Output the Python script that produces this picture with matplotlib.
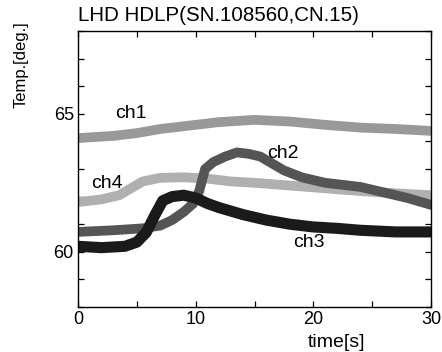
import matplotlib

matplotlib.use("Agg")
import matplotlib.pyplot as plt
from matplotlib.ticker import MultipleLocator

plt.rcParams["font.family"] = ["Liberation Sans", "DejaVu Sans"]

# values (centre of each noisy trace)
ch1_t = [0, 3, 5, 7, 9, 12, 15, 18, 21, 24, 27, 30]
ch1_v = [64.12, 64.2, 64.3, 64.45, 64.55, 64.7, 64.78, 64.72, 64.6, 64.5, 64.45, 64.38]

ch2_t = [0, 3, 5.5, 7, 8, 9, 9.8, 10.3, 10.8, 11.5, 12.5, 13.5, 14.5, 15.5, 16.5, 17.5,
         19, 21, 24, 26, 28, 30]
ch2_v = [60.72, 60.78, 60.85, 60.95, 61.15, 61.45, 61.75, 62.2, 63.0, 63.25, 63.45, 63.6,
         63.55, 63.45, 63.2, 62.95, 62.7, 62.5, 62.35, 62.15, 61.95, 61.7]

ch3_t = [0, 2, 4, 5, 5.8, 6.5, 7.2, 8, 9, 10, 11, 12, 14, 16, 18, 20, 22, 24, 27, 30]
ch3_v = [60.2, 60.15, 60.2, 60.35, 60.7, 61.3, 61.85, 62.0, 62.05, 61.95, 61.75, 61.6,
         61.35, 61.15, 61.0, 60.9, 60.85, 60.78, 60.72, 60.72]

ch4_t = [0, 2, 3.5, 4.5, 5.5, 7, 9, 11, 13, 15, 18, 21, 24, 27, 30]
ch4_v = [61.8, 61.9, 62.05, 62.3, 62.55, 62.68, 62.7, 62.65, 62.55, 62.5, 62.4, 62.3,
         62.2, 62.12, 62.05]

labels = ["ch1", "ch2", "ch3", "ch4"]
label_pos = {"ch1": (4.5, 65.0), "ch2": (17.4, 63.55), "ch3": (19.6, 60.33), "ch4": (2.5, 62.46)}

fig = plt.figure(figsize=(4.42, 3.52), dpi=100)
ax = fig.add_axes([78 / 442, 1 - 307 / 352, 353 / 442, 276 / 352])

lw = 7
ax.plot(ch1_t, ch1_v, color="#999999", lw=lw, solid_joinstyle="round")
ax.plot(ch4_t, ch4_v, color="#b0b0b0", lw=lw, solid_joinstyle="round")
ax.plot(ch2_t, ch2_v, color="#555555", lw=lw, solid_joinstyle="round")
ax.plot(ch3_t, ch3_v, color="#1a1a1a", lw=lw + 1, solid_joinstyle="round")

for name in labels:
    x, y = label_pos[name]
    ax.text(x, y, name, fontsize=14, ha="center", va="center")

ax.set_xlim(0, 30)
ax.set_ylim(58, 68)
ax.xaxis.set_major_locator(MultipleLocator(10))
ax.xaxis.set_minor_locator(MultipleLocator(5))
ax.yaxis.set_major_locator(MultipleLocator(5))
ax.yaxis.set_minor_locator(MultipleLocator(1))
ax.tick_params(which="both", direction="in", top=True, right=True, length=4.5, width=0.9)
ax.tick_params(axis="x", labelsize=13, pad=3)
ax.tick_params(axis="y", labelsize=13, pad=3)
for sp in ax.spines.values():
    sp.set_linewidth(1.0)

ax.set_title("LHD HDLP(SN.108560,CN.15)", loc="left", fontsize=14.8, pad=7)
ax.text(-0.161, 0.877, "Temp.[deg.]", transform=ax.transAxes, rotation=90,
        fontsize=12, ha="center", va="center")
ax.text(0.731, -0.13, "time[s]", transform=ax.transAxes, fontsize=14,
        ha="center", va="center")

fig.savefig("out.png", dpi=100)
